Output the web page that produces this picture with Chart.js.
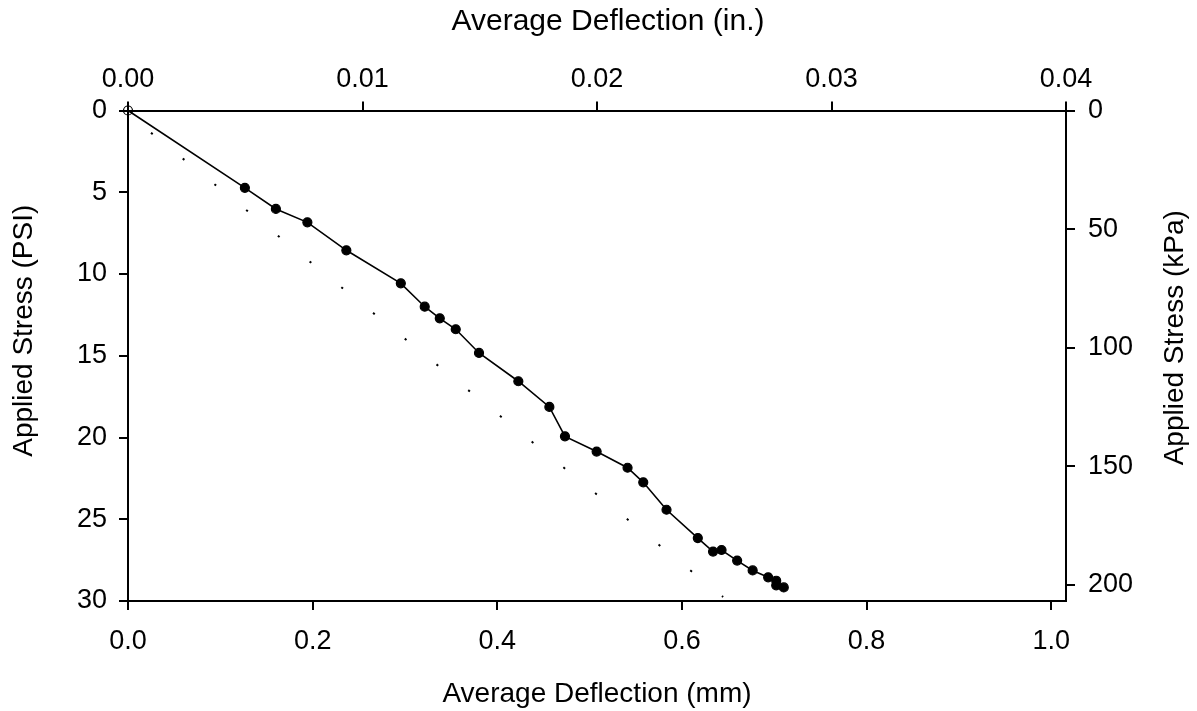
<!DOCTYPE html>
<html>
<head>
<meta charset="utf-8">
<script src="https://cdn.jsdelivr.net/npm/chart.js@4.4.1/dist/chart.umd.min.js"></script>
<style>
  body { margin: 0; background: #fff; }
  #wrap { width: 1197px; height: 711px; }
</style>
</head>
<body>
<div id="wrap"><canvas id="grafico"></canvas></div>
<script>
const deflectionMm = [0, 0.1266, 0.1602, 0.1943, 0.2365, 0.2955, 0.3214, 0.3377, 0.3550, 0.3802,
    0.4228, 0.4564, 0.4733, 0.5076, 0.5411, 0.5581, 0.5833, 0.6172, 0.6337, 0.6429,
    0.6598, 0.6766, 0.6934, 0.7021, 0.7021, 0.7103];
const stressPsi = [0, 4.73, 6.02, 6.84, 8.55, 10.57, 12.00, 12.71, 13.38, 14.83,
    16.56, 18.13, 19.93, 20.86, 21.85, 22.74, 24.42, 26.15, 26.98, 26.88,
    27.53, 28.13, 28.55, 28.76, 29.04, 29.17];

const fitMm = [0.0249, 0.6446];
const fitPsi = [1.36, 29.75];

const ticksMm = [0, 0.2, 0.4, 0.6, 0.8, 1.0];
const ticksIn = [0, 0.01, 0.02, 0.03, 0.04];
const ticksPsi = [0, 5, 10, 15, 20, 25, 30];
const ticksKpa = [0, 50, 100, 150, 200];

const MM_PER_IN = 25.4;
const KPA_PER_PSI = 6.894757;
const fonte = '"Liberation Sans", Arial, Helvetica, sans-serif';

document.addEventListener('DOMContentLoaded', function () {
    const ctx = document.getElementById('grafico');

    const fixTicks = list => scale => { scale.ticks = list.map(v => ({ value: v })); };
    const grid = { drawOnChartArea: false, tickLength: 9, lineWidth: 2, color: '#000' };
    const border = { color: '#000', width: 2 };
    const tickFont = { family: fonte, size: 27 };
    const titleFont = { family: fonte, size: 28 };

    // axis titles that sit off-centre in the original
    const axisTitles = {
        id: 'axisTitles',
        afterDraw(chart) {
            const area = chart.chartArea;
            const midY = (area.top + area.bottom) / 2;
            const midX = (area.left + area.right) / 2;
            const c = chart.ctx;
            const put = (text, x, y, size, rot) => {
                c.save();
                c.translate(x, y);
                c.rotate(rot);
                c.font = size + 'px ' + fonte;
                c.fillStyle = '#000';
                c.textAlign = 'center';
                c.textBaseline = 'middle';
                c.fillText(text, 0, 0);
                c.restore();
            };
            put('Applied Stress (PSI)', chart.scales.y.left + 24, midY - 25, 28, -Math.PI / 2);
            put('Applied Stress (kPa)', chart.scales.y2.right - 22, midY - 18, 28, -Math.PI / 2);
            put('Average Deflection (in.)', midX + 11, chart.scales.x2.top + 22, 30, 0);
        }
    };

    new Chart(ctx, {
        type: 'scatter',
        data: {
            datasets: [
                {
                    label: 'Measured',
                    data: deflectionMm.map((x, i) => ({ x: x, y: stressPsi[i] })),
                    showLine: true,
                    borderColor: '#000',
                    borderWidth: 1.6,
                    pointRadius: 4.5,
                    pointHoverRadius: 4.5,
                    pointBorderWidth: 1.2,
                    pointBorderColor: '#000',
                    pointBackgroundColor: deflectionMm.map((x, i) => i === 0 ? 'rgba(0,0,0,0)' : '#000'),
                    clip: false,
                    xAxisID: 'x',
                    yAxisID: 'y'
                },
                {
                    label: 'Fit',
                    data: fitMm.map((x, i) => ({ x: x, y: fitPsi[i] })),
                    showLine: true,
                    borderColor: '#000',
                    borderWidth: 2,
                    borderDash: [2.2, 38.65],
                    pointRadius: 0,
                    xAxisID: 'x',
                    yAxisID: 'y'
                }
            ]
        },
        options: {
            responsive: true,
            maintainAspectRatio: false,
            animation: false,
            layout: { padding: 0 },
            plugins: {
                legend: { display: false },
                tooltip: { enabled: false }
            },
            scales: {
                x: {
                    type: 'linear',
                    position: 'bottom',
                    min: 0,
                    max: 0.04 * MM_PER_IN,
                    afterBuildTicks: fixTicks(ticksMm),
                    afterFit: s => { s.height = 110; },
                    grid: grid,
                    border: border,
                    ticks: { color: '#000', font: tickFont, padding: 15, maxRotation: 0,
                        callback: v => v.toFixed(1) },
                    title: { display: true, text: 'Average Deflection (mm)', color: '#000',
                        font: titleFont, padding: { top: 0, bottom: 0 } }
                },
                x2: {
                    type: 'linear',
                    position: 'top',
                    min: 0,
                    max: 0.04,
                    afterBuildTicks: fixTicks(ticksIn),
                    afterFit: s => { s.height = 110.5; },
                    grid: grid,
                    border: border,
                    ticks: { color: '#000', font: tickFont, padding: 6, maxRotation: 0,
                        callback: v => v.toFixed(2) }
                },
                y: {
                    type: 'linear',
                    position: 'left',
                    reverse: true,
                    min: 0,
                    max: 30,
                    afterBuildTicks: fixTicks(ticksPsi),
                    afterFit: s => { s.width = 128; },
                    grid: grid,
                    border: border,
                    ticks: { color: '#000', font: tickFont, padding: 12 }
                },
                y2: {
                    type: 'linear',
                    position: 'right',
                    reverse: true,
                    min: 0,
                    max: 30 * KPA_PER_PSI,
                    afterBuildTicks: fixTicks(ticksKpa),
                    afterFit: s => { s.width = 131; },
                    grid: grid,
                    border: border,
                    ticks: { color: '#000', font: tickFont, padding: 13 }
                }
            }
        },
        plugins: [axisTitles]
    });
});
</script>
</body>
</html>
